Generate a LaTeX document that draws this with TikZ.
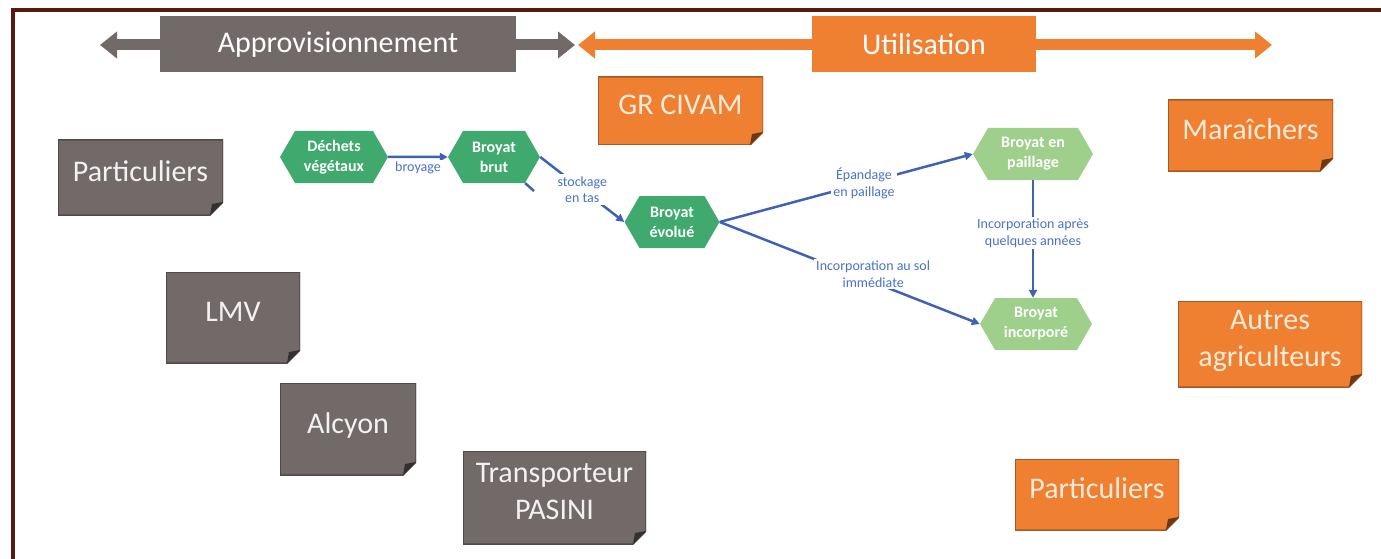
\documentclass[tikz,border=0pt]{standalone}
\usepackage{fontspec}
\setmainfont{Carlito}
\usetikzlibrary{arrows.meta,shapes.symbols}
\definecolor{framecol}{HTML}{561A0E}
\definecolor{apgray}{HTML}{716A69}
\definecolor{utorange}{HTML}{EF7F31}
\definecolor{dkgreen}{HTML}{40AA6E}
\definecolor{ltgreen}{HTML}{9FD08B}
\definecolor{flowblue}{HTML}{3F62B4}
\definecolor{lblblue}{HTML}{4A72C8}
\definecolor{cream}{HTML}{FDEBD9}
\tikzset{%
  every node/.style={font=\fontsize{30}{37}\selectfont, align=center},
  bigarrow/.style={line width=11pt,
    {Triangle[length=17pt,width=26pt]}-{Triangle[length=17pt,width=26pt]}},
  band/.style={fill=#1, text=white, minimum height=56pt, inner sep=0pt},
  note/.style 2 args={inner sep=0pt, text=#2, text depth=12pt, path picture={
      \path[fill=#1, draw=#1!70!black, line width=1.5pt]
        (path picture bounding box.north west)
        -- (path picture bounding box.north east)
        -- ([yshift=13pt]path picture bounding box.south east)
        -- ([xshift=-13pt]path picture bounding box.south east)
        -- (path picture bounding box.south west) -- cycle;
      \fill[#1!45!black] ([yshift=13pt]path picture bounding box.south east)
        -- ([xshift=-13pt]path picture bounding box.south east)
        -- ([xshift=-11pt,yshift=11pt]path picture bounding box.south east)
        -- cycle;}},
  graynote/.style={note={apgray}{white!95!black}},
  orangenote/.style={note={utorange}{cream}},
  hex/.style={shape=signal, signal to=east and west, signal pointer angle=120,
    fill=#1, text=white, inner sep=0pt, minimum height=52pt,
    font=\bfseries\fontsize{16}{20}\selectfont},
  flow/.style={draw=flowblue, line width=2.5pt,
    -{Triangle[length=8pt,width=8pt]}},
  lbl/.style={text=lblblue, fill=white, inner sep=2pt,
    font=\fontsize{14}{16.5}\selectfont}
}

\begin{document}
\begin{tikzpicture}[x=1pt, y=-1pt]
  \useasboundingbox (0,0) rectangle (1381,559);
  \draw[framecol, line width=4pt] (13,559) -- (13,10) -- (1381,10);

  \coordinate (apW) at (100,45);
  \coordinate (apE) at (575,45);
  \coordinate (utW) at (578,45);
  \coordinate (utE) at (1272,45);
  \draw[bigarrow, apgray] (apW) -- (apE);
  \draw[bigarrow, utorange] (utW) -- (utE);
  \node (appro) [band=apgray, minimum width=356pt] at (338,44.5) {Approvisionnement};
  \node (util) [band=utorange, minimum width=224pt] at (924,44.5) {Utilisation};

  \node (partA) [graynote, minimum width=165pt, minimum height=75pt] at (140.5,177.5) {Particuliers};
  \node (lmv) [graynote, minimum width=134pt, minimum height=91pt] at (233,317.5) {LMV};
  \node (alcyon) [graynote, minimum width=136pt, minimum height=92pt] at (348,429) {Alcyon};
  \node (pasini) [graynote, minimum width=183pt, minimum height=93pt] at (554.5,497.5) {Transporteur\\PASINI};

  \node (civam) [orangenote, minimum width=165pt, minimum height=68pt] at (680.5,111) {GR CIVAM};
  \node (marai) [orangenote, minimum width=165pt, minimum height=71pt] at (1250.5,135.5) {Maraîchers};
  \node (autres) [orangenote, minimum width=184pt, minimum height=86pt] at (1270,344) {Autres\\agriculteurs};
  \node (partB) [orangenote, minimum width=164pt, minimum height=71pt] at (1097,494.5) {Particuliers};

  \node (dechets) [hex=dkgreen, minimum width=108pt] at (334,157) {Déchets\\végétaux};
  \node (brut) [hex=dkgreen, minimum width=92pt] at (494,157) {Broyat\\brut};
  \node (evolue) [hex=dkgreen, minimum width=95pt] at (672,222) {Broyat\\évolué};
  \node (paillage) [hex=ltgreen, minimum width=120pt] at (1033,154) {Broyat en\\paillage};
  \node (incorpore) [hex=ltgreen, minimum width=112pt] at (1036,324) {Broyat\\incorporé};
  \coordinate (stub) at (534,191);

  \draw (dechets) edge[flow] node[lbl, below=2pt] {broyage} (brut);
  \draw (brut.east) edge[flow] node[lbl] {stockage\\en tas} (evolue.west);
  \draw[flowblue, line width=2.5pt] (brut.-40) -- (stub);
  \draw (evolue.east) edge[flow] node[lbl, pos=0.57] {Épandage\\en paillage} (paillage.west);
  \draw (evolue.east) edge[flow] node[lbl, pos=0.59, yshift=8pt] {Incorporation au sol\\immédiate} (incorpore.west);
  \draw (paillage.south) edge[flow] node[lbl, pos=0.45] {Incorporation après\\quelques années} (paillage.south |- incorpore.north);
\end{tikzpicture}
\end{document}
